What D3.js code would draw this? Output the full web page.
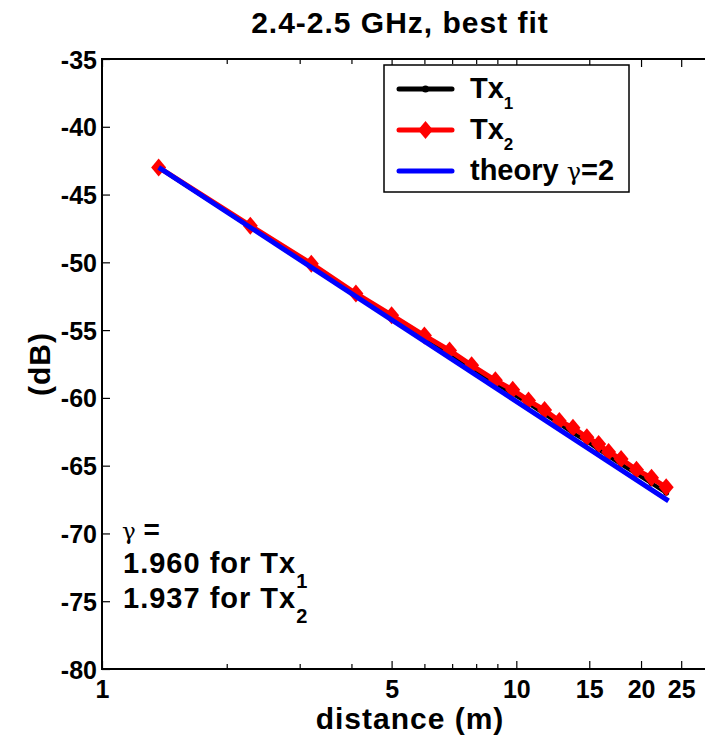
<!DOCTYPE html>
<html>
<head>
<meta charset="utf-8">
<script src="https://cdn.jsdelivr.net/npm/d3@7"></script>
<style>
  body { margin: 0; background: #fff; }
  text { font-family: "Liberation Sans", Arial, sans-serif; font-weight: bold; fill: #000; }
</style>
</head>
<body>
<svg id="chart" width="705" height="739"></svg>
<script>
// measured points (distance in m, received level in dB)
const distance = [1.37, 2.28, 3.2, 4.1, 5.0, 6.0, 6.9, 7.8, 8.9, 9.8, 10.7, 11.7, 12.7, 13.7, 14.8, 15.8, 16.7, 17.9, 19.5, 21.2, 23.0];
const tx1 = [-43.0, -47.4, -50.3, -52.4, -54.1, -55.6, -56.8, -57.8, -58.9, -59.7, -60.4, -61.2, -61.9, -62.6, -63.2, -63.8, -64.3, -64.9, -65.6, -66.3, -67.0];
const tx2 = [-43.0, -47.3, -50.1, -52.3, -53.9, -55.4, -56.5, -57.6, -58.7, -59.4, -60.2, -60.9, -61.7, -62.2, -62.9, -63.4, -64.0, -64.5, -65.3, -65.9, -66.6];
const theoryDistance = [1.37, 23.3];
const theoryDb = [-43.0, -67.6];

const xTicks = [1, 5, 10, 15, 20, 25];
const xMinor = [2, 3, 4, 6, 7, 8, 9];
const yTicks = [-80, -75, -70, -65, -60, -55, -50, -45, -40, -35];

const margin = {top: 59, left: 102, right: -9, bottom: 70};
const W = 705, H = 739;
const width = W - margin.left - margin.right,
      height = H - margin.top - margin.bottom;

const svg = d3.select("#chart");
const g = svg.append("g").attr("transform", `translate(${margin.left},${margin.top})`);

const x = d3.scaleLog().domain([1, 30]).range([0, width]);
const y = d3.scaleLinear().domain([-80, -35]).range([height, 0]);
const plain = d => String(d);   // hyphen minus, like the original

// axes, ticks pointing inward (matlab style)
g.append("g").attr("class", "x axis")
  .attr("transform", `translate(0,${height})`)
  .call(d3.axisBottom(x).tickValues(xTicks).tickFormat(plain).tickSizeInner(-8).tickSizeOuter(0).tickPadding(11));
g.append("g").attr("class", "x minor")
  .attr("transform", `translate(0,${height})`)
  .call(d3.axisBottom(x).tickValues(xMinor).tickFormat("").tickSizeInner(-5).tickSizeOuter(0));
g.append("g").attr("class", "x top")
  .call(d3.axisTop(x).tickValues(xTicks).tickFormat("").tickSizeInner(-8).tickSizeOuter(0));
g.append("g").attr("class", "x top minor")
  .call(d3.axisTop(x).tickValues(xMinor).tickFormat("").tickSizeInner(-5).tickSizeOuter(0));
g.append("g").attr("class", "y axis")
  .call(d3.axisLeft(y).tickValues(yTicks).tickFormat(plain).tickSizeInner(-8).tickSizeOuter(0).tickPadding(5));
g.append("g").attr("class", "y right")
  .attr("transform", `translate(${width},0)`)
  .call(d3.axisRight(y).tickValues(yTicks).tickFormat("").tickSizeInner(-8).tickSizeOuter(0));

g.selectAll(".axis, .minor, .top, .right").select(".domain").remove();
g.selectAll(".tick line").attr("stroke", "#000").attr("stroke-width", 1.2);
g.selectAll(".axis .tick text").style("font-size", "25px").attr("fill", "#000");
g.selectAll(".y.axis .tick text").attr("dy", "0.36em");

g.append("rect").attr("width", width).attr("height", height)
  .attr("fill", "none").attr("stroke", "#000").attr("stroke-width", 2);

svg.append("defs").append("clipPath").attr("id", "plot-clip")
  .append("rect").attr("width", width).attr("height", height);
const plot = g.append("g").attr("clip-path", "url(#plot-clip)");

const line = d3.line().x(d => x(d[0])).y(d => y(d[1]));
const diamond = (cx, cy) => `M${cx},${cy - 9}L${cx + 7.5},${cy}L${cx},${cy + 9}L${cx - 7.5},${cy}Z`;

const s1 = distance.map((d, i) => [d, tx1[i]]);
const s2 = distance.map((d, i) => [d, tx2[i]]);
const st = theoryDistance.map((d, i) => [d, theoryDb[i]]);

plot.append("path").datum(s1).attr("d", line)
  .attr("fill", "none").attr("stroke", "#000").attr("stroke-width", 4);
plot.selectAll(".dot1").data(s1).enter().append("circle")
  .attr("cx", d => x(d[0])).attr("cy", d => y(d[1])).attr("r", 3).attr("fill", "#000");

plot.append("path").datum(s2).attr("d", line)
  .attr("fill", "none").attr("stroke", "#ff0000").attr("stroke-width", 5);
plot.selectAll(".dia").data(s2).enter().append("path")
  .attr("d", d => diamond(x(d[0]), y(d[1]))).attr("fill", "#ff0000");

plot.append("path").datum(st).attr("d", line)
  .attr("fill", "none").attr("stroke", "#0000ff").attr("stroke-width", 5);

// title and labels
svg.append("text").attr("x", 400).attr("y", 33).attr("text-anchor", "middle")
  .style("font-size", "30px").style("letter-spacing", "1px").text("2.4-2.5 GHz, best fit");
svg.append("text").attr("x", 410).attr("y", 729).attr("text-anchor", "middle")
  .style("font-size", "30px").style("letter-spacing", "1px").text("distance (m)");
svg.append("text").attr("transform", "translate(50,364) rotate(-90)").attr("text-anchor", "middle")
  .style("font-size", "30px").style("letter-spacing", "1px").text("(dB)");

// legend
const leg = svg.append("g").attr("transform", "translate(384,65)");
leg.append("rect").attr("width", 245).attr("height", 127)
  .attr("fill", "#fff").attr("stroke", "#000").attr("stroke-width", 1.5);
const legItems = [
  {label: "Tx", sub: "1", color: "#000", mark: "dot"},
  {label: "Tx", sub: "2", color: "#ff0000", mark: "diamond"},
  {label: "theory ", sym: "γ", tail: "=2", color: "#0000ff", mark: "none"}
];
legItems.forEach((it, i) => {
  const cy = 24 + i * 41;
  leg.append("line").attr("x1", 15).attr("x2", 68).attr("y1", cy).attr("y2", cy)
    .attr("stroke", it.color).attr("stroke-width", 5).attr("stroke-linecap", "round");
  if (it.mark === "dot") leg.append("circle").attr("cx", 41.5).attr("cy", cy).attr("r", 3.5).attr("fill", it.color);
  if (it.mark === "diamond") leg.append("path").attr("d", diamond(41.5, cy)).attr("fill", it.color);
  const t = leg.append("text").attr("x", 86).attr("y", cy + 9).style("font-size", "29px");
  t.append("tspan").text(it.label);
  if (it.sub) t.append("tspan").attr("dy", 11).style("font-size", "17px").text(it.sub);
  if (it.sym) {
    t.append("tspan").style("font-weight", "normal").style("font-family", "DejaVu Serif, serif").style("font-size", "24px").text(it.sym);
    t.append("tspan").text(it.tail);
  }
});

// fitted exponent note
const note = svg.append("g");
note.append("text").attr("x", 122).attr("y", 539).style("font-size", "28px")
  .call(t => {
    t.append("tspan").style("font-weight", "normal").style("font-family", "DejaVu Serif, serif").style("font-size", "23px").text("γ");
    t.append("tspan").text(" =");
  });
const gammas = [["1.960", "1"], ["1.937", "2"]];
gammas.forEach((gm, i) => {
  const t = note.append("text").attr("x", 123).attr("y", 573 + i * 35)
    .style("font-size", "29px").style("letter-spacing", "1px");
  t.append("tspan").text(gm[0] + " for Tx");
  t.append("tspan").attr("dy", 15).style("font-size", "20px").text(gm[1]);
});
</script>
</body>
</html>
